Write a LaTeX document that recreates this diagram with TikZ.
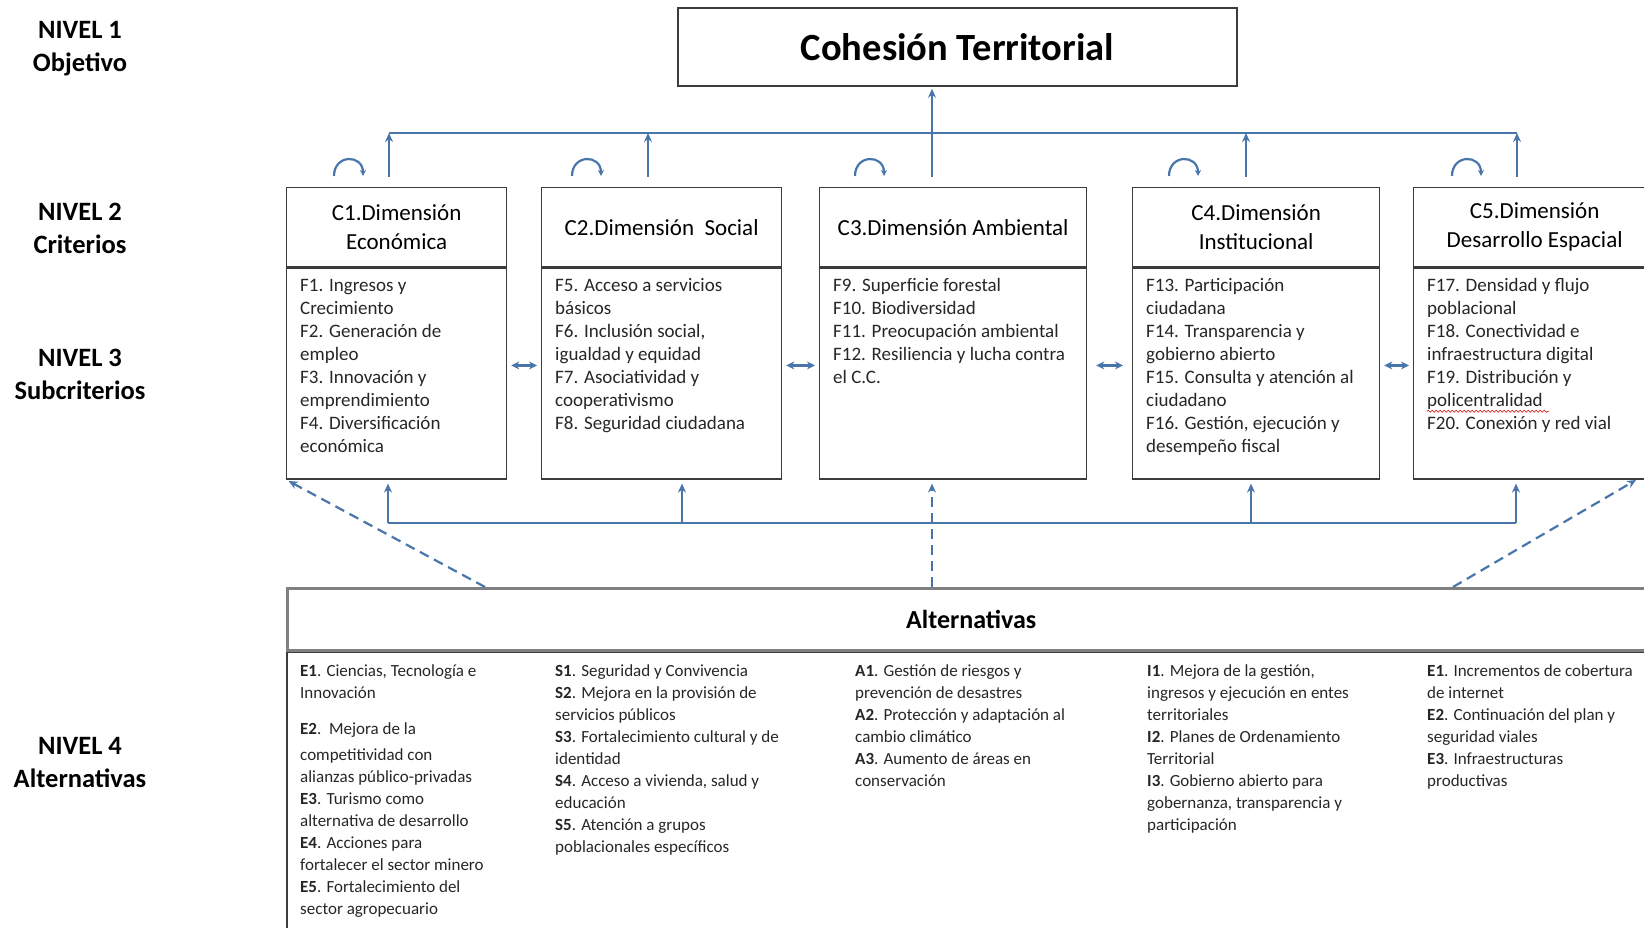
\documentclass[tikz,border=0pt]{standalone}
\usepackage{fontspec}
\setmainfont{Carlito}
\usetikzlibrary{arrows.meta,positioning,decorations.pathmorphing}
\definecolor{linkblue}{RGB}{72,118,170}
\definecolor{boxline}{RGB}{60,60,60}
\newcommand{\cod}[1]{\textbf{#1}}

\begin{document}
\begin{tikzpicture}[x=1pt,y=-1pt,
    level/.style={align=center, font=\fontsize{26.5}{33}\selectfont\bfseries},
    hdr/.style={draw=boxline, line width=1.3pt, anchor=north west, inner sep=0pt, minimum height=79pt, align=center, font=\fontsize{23}{29}\selectfont},
    bodybox/.style={draw=boxline, line width=1.3pt, anchor=north west, inner sep=0pt, minimum height=211pt},
    sub/.style={inner sep=0pt, align=left, font=\fontsize{19}{23}\selectfont, text=black!85},
    alt/.style={inner sep=0pt, align=left, font=\fontsize{17}{22}\selectfont, text=black!85},
    bus/.style={draw=linkblue, line width=2.5pt},
    tip/.style={-{Stealth[length=9pt,width=8pt]}},
    dashlink/.style={draw=linkblue, line width=2.2pt, dash pattern=on 10pt off 6pt, -{Stealth[length=9pt,width=8pt]}},
    dbl/.style={draw=linkblue, line width=2.4pt, {Stealth[length=8pt,width=8pt]}-{Stealth[length=8pt,width=8pt]}, shorten <=4pt, shorten >=4pt},
    loopmark/.style={draw=linkblue, line width=2.2pt, -{Stealth[length=6pt,width=6pt]}}
  ]
  \useasboundingbox (0,0) rectangle (1644,928);
  \clip (0,0) rectangle (1644,928);

  % levels
  \node[level] (n1) at (80,49) {NIVEL 1\\Objetivo};
  \node[level] (n2) at (80,228) {NIVEL 2\\Criterios};
  \node[level] (n3) at (80,374) {NIVEL 3\\Subcriterios};
  \node[level] (n4) at (80,762) {NIVEL 4\\Alternativas};

  \node[draw=boxline, line width=1.5pt, minimum width=559pt, minimum height=78pt,
        font=\fontsize{38.5}{44}\selectfont\bfseries] (top) at (957.5,47) {Cohesión Territorial};

  % criterios
  \node[hdr, minimum width=220pt] (h1) at (286,187) {C1.Dimensión\\Económica};
  \node[hdr, minimum width=240pt] (h2) at (541,187) {C2.Dimensión\ \ Social};
  \node[hdr, minimum width=267pt] (h3) at (819,187) {C3.Dimensión Ambiental};
  \node[hdr, minimum width=247pt] (h4) at (1132,187) {C4.Dimensión\\Institucional};
  \node[hdr, minimum width=242pt] (h5) at (1413,187) {C5.Dimensión\\Desarrollo Espacial};
  \foreach \i/\w in {1/220,2/240,3/267,4/247,5/242}
    \node[bodybox, minimum width=\w pt] (b\i) at (h\i.south west) {};

  \node[sub, below right=8pt and 14pt of b1.north west] (s1) {\strut F1. Ingresos y\\Crecimiento\\F2. Generación de\\empleo\\F3. Innovación y\\emprendimiento\\F4. Diversificación\\económica};
  \node[sub, below right=8pt and 14pt of b2.north west] (s2) {\strut F5. Acceso a servicios\\básicos\\F6. Inclusión social,\\igualdad y equidad\\F7. Asociatividad y\\cooperativismo\\F8. Seguridad ciudadana};
  \node[sub, below right=8pt and 14pt of b3.north west] (s3) {\strut F9. Superficie forestal\\F10. Biodiversidad\\F11. Preocupación ambiental\\F12. Resiliencia y lucha contra\\el C.C.};
  \node[sub, below right=8pt and 14pt of b4.north west] (s4) {\strut F13. Participación\\ciudadana\\F14. Transparencia y\\gobierno abierto\\F15. Consulta y atención al\\ciudadano\\F16. Gestión, ejecución y\\desempeño fiscal};
  \node[sub, below right=8pt and 14pt of b5.north west] (s5) {\strut F17. Densidad y flujo\\poblacional\\F18. Conectividad e\\infraestructura digital\\F19. Distribución y\\policentralidad\\F20. Conexión y red vial};
  \draw[red!85!black, line width=0.6pt, decorate, decoration={snake, amplitude=1pt, segment length=4pt}]
    ([yshift=-136pt]s5.north west) -- ++(122,0);

  \draw[dbl] ([yshift=8pt]b1.east) -- ([yshift=8pt]b2.west);
  \draw[dbl] ([yshift=8pt]b2.east) -- ([yshift=8pt]b3.west);
  \draw[dbl, shorten <=9pt, shorten >=9pt] ([yshift=8pt]b3.east) -- ([yshift=8pt]b4.west);
  \draw[dbl] ([yshift=8pt]b4.east) -- ([yshift=8pt]b5.west);

  % arriba
  \foreach \i/\x in {1/389,2/648,3/932,4/1246,5/1517}
    \coordinate (ta\i) at (\x,133);
  \draw[bus] (ta1) -- (ta5);
  \foreach \i in {1,2,4,5}
    \draw[bus, tip, shorten <=10pt] (ta\i |- h\i.north) -- (ta\i);
  \draw[bus, tip, shorten <=10pt, shorten >=2pt] (ta3 |- h3.north) -- (ta3 |- top.south);
  \foreach \x in {334,572,855,1169,1452}
    \draw[loopmark] (\x,176) .. controls (\x,154) and (\x+29,154) .. (\x+29,176);

  % alternativas
  \node[draw=gray, line width=2.5pt, anchor=north west, inner sep=0pt, minimum width=1368pt, minimum height=62pt,
        font=\fontsize{26}{31}\selectfont\bfseries] (alth) at (286,587) {Alternativas};
  \node[draw=boxline, line width=1.5pt, anchor=north west, inner sep=0pt, minimum width=1368pt, minimum height=320pt] (altb) at (alth.south west) {};

  \node[alt, below right=9.5pt and 14pt of altb.north west] (a1) {\strut\cod{E1}. Ciencias, Tecnología e\\Innovación\\[14pt]
    \cod{E2}.\ \ Mejora de la\\[4pt]competitividad con\\alianzas público-privadas\\\cod{E3}. Turismo como\\alternativa de desarrollo\\
    \cod{E4}. Acciones para\\fortalecer el sector minero\\\cod{E5}. Fortalecimiento del\\sector agropecuario};
  \node[alt, below right=9.5pt and 269pt of altb.north west] (a2) {\strut\cod{S1}. Seguridad y Convivencia\\\cod{S2}. Mejora en la provisión de\\servicios públicos\\
    \cod{S3}. Fortalecimiento cultural y de\\identidad\\\cod{S4}. Acceso a vivienda, salud y\\educación\\\cod{S5}. Atención a grupos\\poblacionales específicos};
  \node[alt, below right=9.5pt and 569pt of altb.north west] (a3) {\strut\cod{A1}. Gestión de riesgos y\\prevención de desastres\\\cod{A2}. Protección y adaptación al\\cambio climático\\
    \cod{A3}. Aumento de áreas en\\conservación};
  \node[alt, below right=9.5pt and 861pt of altb.north west] (a4) {\strut\cod{I1}. Mejora de la gestión,\\ingresos y ejecución en entes\\territoriales\\
    \cod{I2}. Planes de Ordenamiento\\Territorial\\\cod{I3}. Gobierno abierto para\\gobernanza, transparencia y\\participación};
  \node[alt, below right=9.5pt and 1141pt of altb.north west] (a5) {\strut\cod{E1}. Incrementos de cobertura\\de internet\\\cod{E2}. Continuación del plan y\\seguridad viales\\
    \cod{E3}. Infraestructuras\\productivas};

  % abajo
  \foreach \i/\x in {1/388,2/682,3/932,4/1251,5/1516}
    \coordinate (ba\i) at (\x,523);
  \draw[bus] (ba1) -- (ba5);
  \foreach \i in {1,2,4,5}
    \draw[bus, tip, shorten >=4pt] (ba\i) -- (ba\i |- b\i.south);
  \coordinate (dL) at (485,587);
  \coordinate (dR) at (1453,587);
  \coordinate (dRt) at (1636,480);
  \draw[dashlink, shorten >=4pt] (alth.north -| ba3) -- (ba3 |- b3.south);
  \draw[dashlink, shorten >=3pt] (dL) -- (b1.south west);
  \draw[dashlink] (dR) -- (dRt);
\end{tikzpicture}
\end{document}
